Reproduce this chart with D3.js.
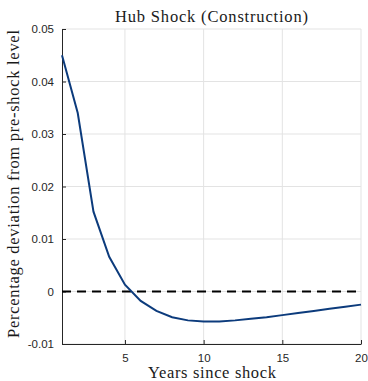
<!DOCTYPE html>
<html><head><meta charset="utf-8">
<script src="https://cdn.jsdelivr.net/npm/d3@7"></script>
<style>body{margin:0;background:#fff;} svg{display:block;}</style>
</head><body>
<script>
const years = [1,2,3,4,5,6,7,8,9,10,11,12,13,14,15,16,17,18,19,20];
const response = [0.045,0.034,0.0152,0.0066,0.0013,-0.0018,-0.0037,-0.0049,-0.0055,-0.0057,-0.0057,-0.0055,-0.0052,-0.0049,-0.0045,-0.0041,-0.0037,-0.0033,-0.0029,-0.0025];
const xTicks = [5,10,15,20];
const yTicks = [-0.01,0,0.01,0.02,0.03,0.04,0.05];
const yTickLabels = ["-0.01","0","0.01","0.02","0.03","0.04","0.05"];
const title = "Hub Shock (Construction)";
const xLabel = "Years since shock";
const yLabel = "Percentage deviation from pre-shock level";

const W=368,H=381;
const m={l:62,r:7,t:29,b:37};
const svg=d3.select("body").append("svg").attr("width",W).attr("height",H);
const x=d3.scaleLinear().domain([1,20]).range([m.l,W-m.r]);
const y=d3.scaleLinear().domain([-0.01,0.05]).range([H-m.b,m.t]);

// grid
const g=svg.append("g");
g.selectAll(".gx").data(xTicks).join("line").attr("x1",d=>x(d)).attr("x2",d=>x(d)).attr("y1",y(-0.01)).attr("y2",y(0.05)).attr("stroke","#e3e3e3").attr("stroke-width",1);
g.selectAll(".gy").data(yTicks).join("line").attr("y1",d=>y(d)).attr("y2",d=>y(d)).attr("x1",x(1)).attr("x2",x(20)).attr("stroke","#e3e3e3").attr("stroke-width",1);

// axes
const xa=svg.append("g").attr("transform",`translate(0,${y(-0.01)})`).call(d3.axisBottom(x).tickValues(xTicks).tickSizeInner(-4).tickSizeOuter(0).tickPadding(10));
const ya=svg.append("g").attr("transform",`translate(${x(1)},0)`).call(d3.axisLeft(y).tickValues(yTicks).tickFormat((d,i)=>yTickLabels[i]).tickSizeInner(-4).tickSizeOuter(0).tickPadding(8));
[xa,ya].forEach(a=>{a.selectAll("path").attr("stroke","#262626").attr("stroke-width",1);a.selectAll("line").attr("stroke","#262626");a.selectAll("text").attr("font-family","Liberation Sans, Arial, sans-serif").attr("font-size",11.5).attr("fill","#262626");});

// zero line
svg.append("line").attr("x1",x(1)).attr("x2",x(20)).attr("y1",y(0)).attr("y2",y(0)).attr("stroke","#000").attr("stroke-width",2).attr("stroke-dasharray","9,6");

// data line
svg.append("path").datum(years.map((d,i)=>[d,response[i]])).attr("fill","none").attr("stroke","#0c3b7c").attr("stroke-width",2)
 .attr("d",d3.line().x(d=>x(d[0])).y(d=>y(d[1])));

// labels
svg.append("text").attr("x",211.5).attr("y",22).attr("text-anchor","middle").attr("font-family","Liberation Serif, serif").attr("font-size",16.5).attr("fill","#1a1a1a").attr("textLength",193).attr("lengthAdjust","spacing").text(title);
svg.append("text").attr("x",212).attr("y",378).attr("text-anchor","middle").attr("font-family","Liberation Serif, serif").attr("font-size",16.5).attr("fill","#1a1a1a").attr("textLength",128).attr("lengthAdjust","spacing").text(xLabel);
svg.append("text").attr("transform",`translate(19,184) rotate(-90)`).attr("text-anchor","middle").attr("font-family","Liberation Serif, serif").attr("font-size",16.5).attr("fill","#1a1a1a").attr("textLength",308).attr("lengthAdjust","spacing").text(yLabel);
</script>
</body></html>
